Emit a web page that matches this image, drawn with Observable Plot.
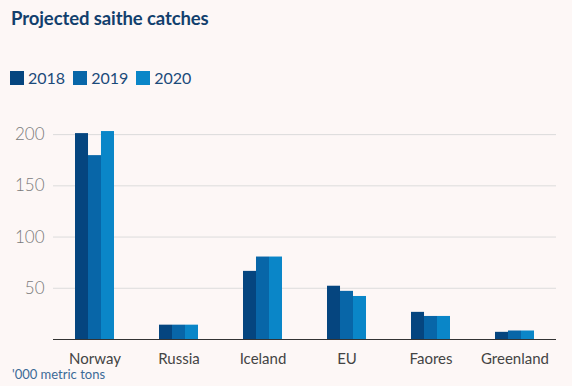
<!DOCTYPE html>
<html>
<head>
<meta charset="utf-8">
<script src="https://cdn.jsdelivr.net/npm/d3@7"></script>
<script src="https://cdn.jsdelivr.net/npm/@observablehq/plot@0.6"></script>
<style>
  html, body { margin: 0; padding: 0; background: #fdf7f6; }
  body { width: 572px; height: 386px; overflow: hidden; font-family: Lato, "Open Sans", sans-serif; }
  #wrap { position: relative; width: 572px; height: 386px; }
  #title { position: absolute; left: 11px; top: 7px; font-size: 18.5px; font-weight: 700; color: #123f6d; letter-spacing: -0.1px; }
  #legend { position: absolute; left: 10px; top: 68px; display: flex; align-items: center; font-size: 16px; color: #1b4a7a; }
  .item { display: flex; align-items: center; margin-right: 8px; }
  .sw { width: 14px; height: 14px; margin-right: 4px; }
  #chart { position: absolute; left: 0; top: 110px; }
  #caption { position: absolute; left: 12px; top: 366px; font-size: 13px; color: #3c6a96; }
</style>
</head>
<body>
<div id="wrap">
  <div id="title">Projected saithe catches</div>
  <div id="legend"></div>
  <div id="chart"></div>
  <div id="caption">'000 metric tons</div>
</div>
<script>
const countries = ["Norway", "Russia", "Iceland", "EU", "Faores", "Greenland"];
const years = ["2018", "2019", "2020"];
const values2018 = [201, 14, 66.5, 52, 26.5, 7];
const values2019 = [179.5, 14, 80.5, 47, 22.5, 8.3];
const values2020 = [203, 14, 80.5, 42, 22.5, 8.3];
const colors = ["#05457f", "#0866a8", "#0a86c8"];
const yTicks = [50, 100, 150, 200];

const series = [values2018, values2019, values2020];

// legend
const legend = document.getElementById("legend");
years.forEach((y, i) => {
  const it = document.createElement("div");
  it.className = "item";
  const sw = document.createElement("div");
  sw.className = "sw";
  sw.style.background = colors[i];
  const t = document.createElement("span");
  t.textContent = y;
  it.appendChild(sw); it.appendChild(t);
  legend.appendChild(it);
});

const rows = [];
countries.forEach((c, ci) => {
  years.forEach((y, yi) => rows.push({country: c, year: y, value: series[yi][ci]}));
});

const W = 572, ML = 53, MR = 16;
const pInner = 0.536, pOuter = 0.262;
const step = (W - ML - MR) / (countries.length - pInner + 2 * pOuter);
const bw = step * (1 - pInner);
const sub = bw / years.length;

const barMarks = years.map((y, yi) =>
  Plot.barY(rows.filter(d => d.year === y), {
    x: "country",
    y: "value",
    fill: colors[yi],
    insetLeft: sub * yi,
    insetRight: sub * (years.length - 1 - yi)
  })
);

const chart = Plot.plot({
  width: W,
  height: 256,
  marginLeft: ML,
  marginRight: MR,
  marginTop: 19,
  marginBottom: 27,
  style: { background: "transparent", fontFamily: "Lato, 'Open Sans', sans-serif", overflow: "visible" },
  x: { domain: countries, paddingInner: pInner, paddingOuter: pOuter, label: null, tickSize: 0, tickPadding: 14 },
  y: { domain: [0, 205], label: null, ticks: yTicks, tickSize: 0, tickPadding: 9 },
  marks: [
    Plot.gridY(yTicks, { stroke: "#dcdcdc", strokeOpacity: 1 }),
    ...barMarks,
    Plot.ruleY([0], { stroke: "#333" })
  ]
});

chart.querySelectorAll('[aria-label="x-axis tick label"] text').forEach(t => {
  t.setAttribute("font-size", "15"); t.setAttribute("fill", "#444");
});
chart.querySelectorAll('[aria-label="y-axis tick label"] text').forEach(t => {
  t.setAttribute("font-size", "17"); t.setAttribute("fill", "#7a7a7a"); t.setAttribute("font-weight", "300");
});
document.getElementById("chart").appendChild(chart);
</script>
</body>
</html>
